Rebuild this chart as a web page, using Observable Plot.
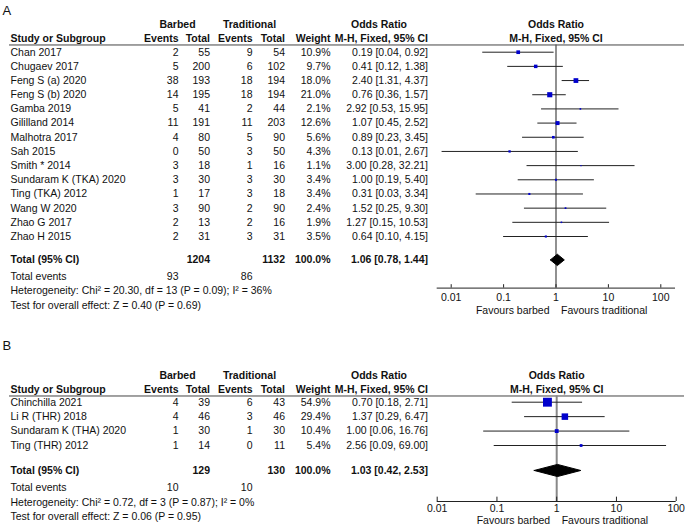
<!DOCTYPE html>
<html><head><meta charset="utf-8">
<script src="https://cdn.jsdelivr.net/npm/d3@7"></script>
<script src="https://cdn.jsdelivr.net/npm/@observablehq/plot@0.6"></script>
<style>
body{margin:0;background:#fff;}
#chart{width:685px;height:526px;overflow:hidden;background:#fff;}
#chart svg{display:block;}
</style></head><body><div id="chart"></div>
<script>
// ---------- Panel A data ----------
const studiesA = ["Chan 2017","Chugaev 2017","Feng S (a) 2020","Feng S (b) 2020","Gamba 2019","Gililland 2014","Malhotra 2017","Sah 2015","Smith * 2014","Sundaram K (TKA) 2020","Ting (TKA) 2012","Wang W 2020","Zhao G 2017","Zhao H 2015"];
const barbedEventsA = [2,5,38,14,5,11,4,0,3,3,1,3,2,2];
const barbedTotalA = [55,200,193,195,41,191,80,50,18,30,17,90,13,31];
const tradEventsA = [9,6,18,18,2,11,5,3,1,3,3,2,2,3];
const tradTotalA = [54,102,194,194,44,203,90,50,16,30,18,90,16,31];
const weightA = [10.9,9.7,18.0,21.0,2.1,12.6,5.6,4.3,1.1,3.4,3.4,2.4,1.9,3.5];
const orA = [0.19,0.41,2.40,0.76,2.92,1.07,0.89,0.13,3.00,1.00,0.31,1.52,1.27,0.64];
const loA = [0.04,0.12,1.31,0.36,0.53,0.45,0.23,0.0067,0.28,0.19,0.03,0.25,0.15,0.10];
const hiA = [0.92,1.38,4.37,1.57,15.95,2.52,3.45,2.67,32.21,5.40,3.34,9.30,10.53,4.15];
const totalEventsA = [93, 86];
const totalCountsA = [1204, 1132];
const totalWeightA = 100.0;
const pooledA = [1.06, 0.78, 1.44];
const hetA = "Heterogeneity: Chi\u00b2 = 20.30, df = 13 (P = 0.09); I\u00b2 = 36%";
const testA = "Test for overall effect: Z = 0.40 (P = 0.69)";

// ---------- Panel B data ----------
const studiesB = ["Chinchilla 2021","Li R (THR) 2018","Sundaram K (THA) 2020","Ting (THR) 2012"];
const barbedEventsB = [4,4,1,1];
const barbedTotalB = [39,46,30,14];
const tradEventsB = [6,3,1,0];
const tradTotalB = [43,46,30,11];
const weightB = [54.9,29.4,10.4,5.4];
const orB = [0.70,1.37,1.00,2.56];
const loB = [0.18,0.29,0.06,0.09];
const hiB = [2.71,6.47,16.76,69.00];
const totalEventsB = [10, 10];
const totalCountsB = [129, 130];
const totalWeightB = 100.0;
const pooledB = [1.03, 0.42, 2.53];
const hetB = "Heterogeneity: Chi\u00b2 = 0.72, df = 3 (P = 0.87); I\u00b2 = 0%";
const testB = "Test for overall effect: Z = 0.06 (P = 0.95)";

// ---------- shared labels ----------
const tickValues = [0.01, 0.1, 1, 10, 100];
const tickLabels = ["0.01", "0.1", "1", "10", "100"];
const groupHeaders = ["Barbed", "Traditional"];
const colHeaders = ["Study or Subgroup", "Events", "Total", "Events", "Total", "Weight"];
const orHeader = ["Odds Ratio", "M-H, Fixed, 95% CI"];
const favours = ["Favours barbed", "Favours traditional"];

const FONT = "'Liberation Sans', Arial, sans-serif";
const INK = "#111";
const BLUE = "#0000cc";
const M = 9; // left margin of the frame
// column anchors (px from left edge of page)
const COL = {study: 10, eb: 178, tb: 209.5, et: 252, tt: 284.5, w: 330, or: 427.5, grpB: 177, grpT: 249, orHdr: 378.5};
const fmt2 = v => v.toFixed(2);
const orText = (o, l, h) => `${fmt2(o)} [${fmt2(l)}, ${fmt2(h)}]`;

function panel(d, L) {
  const rows = d.studies.map((s, i) => ({i, s, eb: d.eb[i], tb: d.tb[i], et: d.et[i], tt: d.tt[i], w: d.w[i], or: d.or[i], lo: d.lo[i], hi: d.hi[i]}));
  const col = (px, anchor, text, y, extra = {}) =>
    Plot.text(Array.isArray(text) ? text : rows, {
      y, text: Array.isArray(text) ? undefined : text,
      frameAnchor: "left", dx: px - M, textAnchor: anchor, fill: INK, fontSize: 10.5, ...extra
    });
  const bold = {fontWeight: "bold"};
  const [po, pl, ph] = d.pooled;
  const diamond = [
    {x: pl, y: L.total}, {x: po, y: L.total - L.dh}, {x: ph, y: L.total}, {x: po, y: L.total + L.dh}, {x: pl, y: L.total}
  ];
  const marks = [
    Plot.text([L.tag], {y: L.tagY, frameAnchor: "left", dx: 2 - M, textAnchor: "start", fontSize: 13, fill: INK}),
    col(COL.grpB, "middle", [groupHeaders[0]], L.grp, bold),
    col(COL.grpT, "middle", [groupHeaders[1]], L.grp, bold),
    col(COL.orHdr, "middle", [orHeader[0]], L.grp, bold),
    col(COL.study, "start", [colHeaders[0]], L.hdr, bold),
    col(COL.eb, "end", [colHeaders[1]], L.hdr, bold),
    col(COL.tb, "end", [colHeaders[2]], L.hdr, bold),
    col(COL.et, "end", [colHeaders[3]], L.hdr, bold),
    col(COL.tt, "end", [colHeaders[4]], L.hdr, bold),
    col(COL.w, "end", [colHeaders[5]], L.hdr, bold),
    col(COL.or, "end", [orHeader[1]], L.hdr, bold),
    Plot.text([orHeader[0]], {x: 1, y: L.grp, textAnchor: "middle", fontWeight: "bold", fontSize: 10.5, fill: INK}),
    Plot.text([orHeader[1]], {x: 1, y: L.hdr, textAnchor: "middle", fontWeight: "bold", fontSize: 10.5, fill: INK}),
    Plot.ruleY([L.line], {stroke: "#444", strokeWidth: 1}),
    col(COL.study, "start", "s", "i"),
    col(COL.eb, "end", "eb", "i"),
    col(COL.tb, "end", "tb", "i"),
    col(COL.et, "end", "et", "i"),
    col(COL.tt, "end", "tt", "i"),
    col(COL.w, "end", r => r.w.toFixed(1) + "%", "i"),
    col(COL.or, "end", r => orText(r.or, r.lo, r.hi), "i"),
    col(COL.study, "start", ["Total (95% CI)"], L.total, bold),
    col(COL.tb, "end", [String(d.totalCounts[0])], L.total, bold),
    col(COL.tt, "end", [String(d.totalCounts[1])], L.total, bold),
    col(COL.w, "end", [d.totalWeight.toFixed(1) + "%"], L.total, bold),
    col(COL.or, "end", [orText(po, pl, ph)], L.total, bold),
    col(COL.study, "start", ["Total events"], L.events),
    col(COL.eb, "end", [String(d.totalEvents[0])], L.events),
    col(COL.et, "end", [String(d.totalEvents[1])], L.events),
    col(COL.study, "start", [d.het], L.het),
    col(COL.study, "start", [d.test], L.test),
    Plot.ruleX([1], {y1: L.line, y2: L.axis, stroke: L.vStroke, strokeWidth: L.vWidth}),
    Plot.ruleY(rows, {y: "i", x1: "lo", x2: "hi", stroke: "#222", strokeWidth: 1}),
    Plot.dot(rows, {x: "or", y: "i", symbol: "square", r: r => L.k * Math.sqrt(r.w) / Math.sqrt(Math.PI), fill: BLUE, stroke: "none"}),
    Plot.line(diamond, {x: "x", y: "y", fill: "black", stroke: "black", strokeWidth: 1}),
    Plot.ruleY([L.axis], {x1: L.axisX[0], x2: L.axisX[1], stroke: "#222", strokeWidth: 1}),
    Plot.ruleX(tickValues, {x: v => v, y1: L.tickTop, y2: L.axis, stroke: "#222", strokeWidth: 1}),
    Plot.text(tickValues, {x: v => v, y: L.tickLab, text: (v, i) => tickLabels[i], textAnchor: "middle", fontSize: 10.5, fill: INK}),
    Plot.text([favours[0]], {x: 1, y: L.fav, dx: -6.5, textAnchor: "end", fontSize: 10.5, fill: INK}),
    Plot.text([favours[1]], {x: 1, y: L.fav, dx: 5, textAnchor: "start", fontSize: 10.5, fill: INK})
  ];
  return Plot.plot({
    width: 685, height: L.h,
    marginLeft: M, marginRight: 1, marginTop: 0, marginBottom: 0,
    x: {type: "log", domain: [0.01, 100], range: L.xr, axis: null},
    y: {type: "linear", domain: [0, d.studies.length - 1], range: L.yr, axis: null},
    r: {type: "identity"},
    style: {fontFamily: FONT, fontSize: "10.5px", background: "#fff", color: INK, overflow: "visible"},
    marks
  });
}

const layoutA = {tag: "A", h: 318, yr: [51.7, 236.0], xr: [450.7, 660.3], axisX: [0.0054, 191],
  tagY: -2.94, grp: -1.95, hdr: -0.97, line: -0.51, total: 14.65, events: 15.82, het: 16.85, test: 17.86,
  axis: 16.64, tickTop: 16.40, tickLab: 17.32, fav: 18.22, dh: 0.40, k: 1.12, vStroke: "#555", vWidth: 1.3};
// panel B svg starts at y = 318 on the page
const layoutB = {tag: "B", h: 208, yr: [83.7, 127.0], xr: [436.7, 675.7], axisX: [0.01, 100],
  tagY: -3.93, grp: -1.85, hdr: -0.86, line: -0.43, total: 4.73, events: 5.93, het: 6.93, test: 7.92,
  axis: 6.88, tickTop: 6.58, tickLab: 7.36, fav: 8.2, dh: 0.42, k: 1.2, vStroke: "#888", vWidth: 2};

const chart = document.getElementById("chart");
chart.append(panel({studies: studiesA, eb: barbedEventsA, tb: barbedTotalA, et: tradEventsA, tt: tradTotalA, w: weightA,
  or: orA, lo: loA, hi: hiA, totalEvents: totalEventsA, totalCounts: totalCountsA, totalWeight: totalWeightA, pooled: pooledA, het: hetA, test: testA}, layoutA));
chart.append(panel({studies: studiesB, eb: barbedEventsB, tb: barbedTotalB, et: tradEventsB, tt: tradTotalB, w: weightB,
  or: orB, lo: loB, hi: hiB, totalEvents: totalEventsB, totalCounts: totalCountsB, totalWeight: totalWeightB, pooled: pooledB, het: hetB, test: testB}, layoutB));
</script></body></html>
